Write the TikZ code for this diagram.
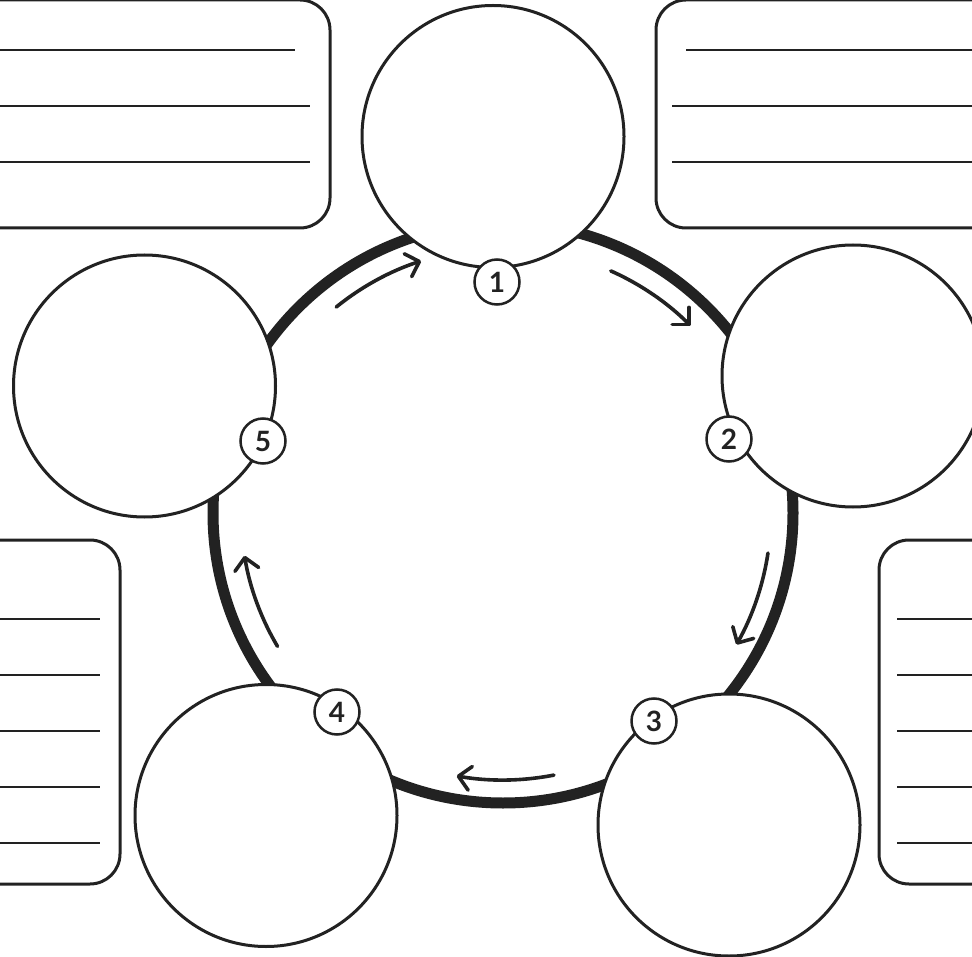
\documentclass[tikz,border=0pt]{standalone}
\usepackage{fontspec}
\setmainfont{Lato}
\usetikzlibrary{arrows.meta,calc}
\definecolor{ink}{HTML}{222222}
\begin{document}
\begin{tikzpicture}[x=1pt,y=-1pt,
  bigc/.style={circle,draw=ink,line width=3pt,fill=white,minimum size=262pt,inner sep=0pt},
  badge/.style={circle,draw=ink,line width=2.5pt,fill=white,minimum size=45pt,inner sep=0pt,
    font=\fontsize{28}{28}\selectfont\bfseries,text=ink},
  panel/.style={draw=ink,line width=3pt,rounded corners=30pt,fill=white},
  rule/.style={draw=ink,line width=2.5pt},
  flow/.style={draw=ink,line width=3.6pt,line cap=round,
    -{Straight Barb[length=12pt,width=24pt,line width=3.6pt,round]}},
  ringline/.style={draw=ink,line width=11pt}]
\useasboundingbox (0,0) rectangle (972,957);
\clip (0,0) rectangle (972,957);
\fill[white] (0,0) rectangle (972,957);

% panels
\draw[panel] (-40,0) rectangle (330,228);
\draw[rule] (-5,50) -- (295,50);
\draw[rule] (-5,106) -- (310,106);
\draw[rule] (-5,162) -- (310,162);

\draw[panel] (656,0) rectangle (1010,228);
\draw[rule] (686,50) -- (980,50);
\draw[rule] (672,106) -- (980,106);
\draw[rule] (672,162) -- (980,162);

\draw[panel] (-40,540) rectangle (120,884);
\foreach \yy in {619,675,731,787,843} \draw[rule] (-5,\yy) -- (100,\yy);

\draw[panel] (879,540) rectangle (1010,884);
\foreach \yy in {619,675,731,787,843} \draw[rule] (897,\yy) -- (980,\yy);

% ring
\coordinate (ring) at (503,513);
\draw[ringline] (ring) circle[radius=290pt];

% flow arrows
\coordinate (a1) at ($(ring)+(129:265pt)$);
\coordinate (a2) at ($(ring)+(66:265pt)$);
\coordinate (a3) at ($(ring)+(-8.6:268pt)$);
\coordinate (a4) at ($(ring)+(-79:267pt)$);
\coordinate (a5) at ($(ring)+(-149.4:262pt)$);
\draw[flow] (a1) arc[start angle=129,end angle=108,radius=265pt];
\draw[flow] (a2) arc[start angle=66,end angle=45,radius=265pt];
\draw[flow] (a3) arc[start angle=-8.6,end angle=-29.4,radius=268pt];
\draw[flow] (a4) arc[start angle=-79,end angle=-100,radius=267pt];
\draw[flow] (a5) arc[start angle=-149.4,end angle=-170.6,radius=262pt];

% stage circles
\node[bigc] (c1) at (493,136.5) {};
\node[bigc] (c2) at (853,376) {};
\node[bigc] (c3) at (729,825) {};
\node[bigc] (c4) at (266,815.5) {};
\node[bigc] (c5) at (144.5,386) {};

% number badges
\node[badge] (n1) at (497,282) {1};
\node[badge] (n2) at (729,439) {2};
\node[badge] (n3) at (654,721) {3};
\node[badge] (n4) at (337,712) {4};
\node[badge] (n5) at (263,441) {5};
\end{tikzpicture}
\end{document}
